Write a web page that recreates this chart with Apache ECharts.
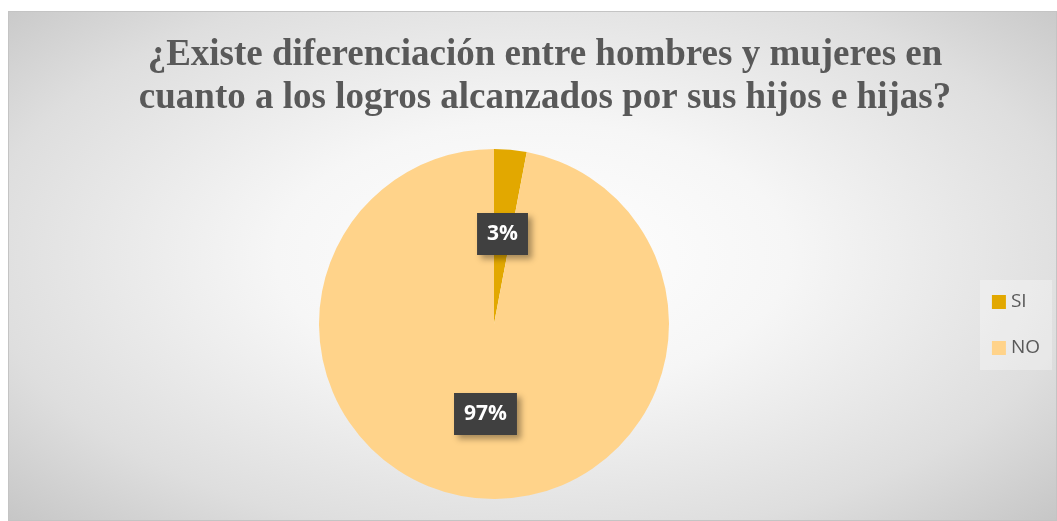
<!DOCTYPE html>
<html>
<head>
<meta charset="utf-8">
<script src="https://cdn.jsdelivr.net/npm/echarts@6/dist/echarts.min.js"></script>
<style>
  html, body { margin: 0; padding: 0; background: #fff; }
  #frame {
    position: absolute; left: 8px; top: 11px; width: 1049px; height: 510px;
    box-sizing: border-box; border: 1px solid #c4c4c4;
    background: radial-gradient(ellipse 70% 75% at 50% 48%, #ffffff 0%, #f6f6f6 35%, #dedede 75%, #c6c6c6 100%);
  }
  #chart { position: absolute; left: 0; top: 0; width: 1057px; height: 521px; }
</style>
</head>
<body>
<div id="frame"></div>
<div id="chart"></div>
<script>
// datos del gráfico
var titulo = '¿Existe diferenciación entre hombres y mujeres en\ncuanto a los logros alcanzados por sus hijos e hijas?';
var categorias = ['SI', 'NO'];
var valores = [3, 97];
var colores = ['#E2A800', '#FFD38A'];

var datos = categorias.map(function (c, i) {
  return { name: c, value: valores[i], itemStyle: { color: colores[i] } };
});

var chart = echarts.init(document.getElementById('chart'));
chart.setOption({
  backgroundColor: 'transparent',
  animation: false,
  title: {
    text: titulo,
    left: 545,
    textAlign: 'center',
    top: 34,
    padding: 0,
    textStyle: {
      fontFamily: 'Liberation Serif',
      fontWeight: 'bold',
      fontSize: 37,
      lineHeight: 43,
      color: '#595959'
    }
  },
  legend: {
    orient: 'vertical',
    right: 5,
    top: 280,
    padding: [12, 12, 12, 12],
    itemGap: 26,
    itemWidth: 14,
    itemHeight: 14,
    icon: 'rect',
    backgroundColor: 'rgba(255,255,255,0.3)',
    textStyle: { fontFamily: 'Open Sans', fontSize: 19, color: '#595959', lineHeight: 20 },
    data: categorias
  },
  series: [{
    type: 'pie',
    center: [494, 324],
    radius: [0, 175],
    startAngle: 90,
    clockwise: true,
    data: datos,
    itemStyle: { borderWidth: 0 },
    label: {
      show: true,
      position: 'inside',
      formatter: '{d}%',
      fontFamily: 'Open Sans',
      fontWeight: 'bold',
      fontSize: 21,
      lineHeight: 24,
      color: '#ffffff',
      backgroundColor: '#404040',
      padding: [9, 10],
      shadowColor: 'rgba(0,0,0,0.35)',
      shadowBlur: 6,
      shadowOffsetX: 4,
      shadowOffsetY: 4
    },
    labelLine: { show: false },
    emphasis: { disabled: true }
  }]
});
</script>
</body>
</html>
